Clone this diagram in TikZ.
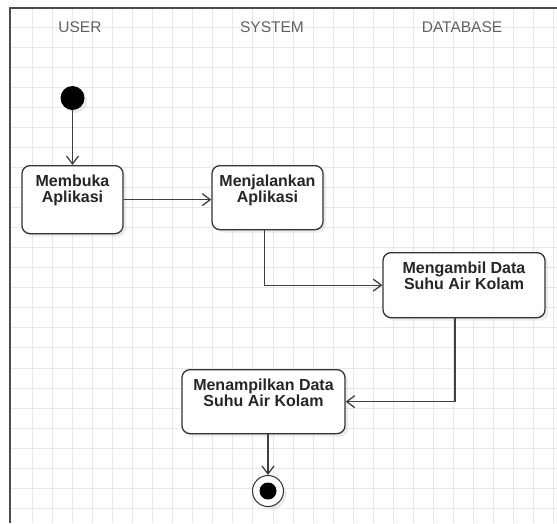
\documentclass[tikz,border=0pt]{standalone}
\usepackage{fontspec}
\setmainfont{Liberation Sans}
\usetikzlibrary{arrows.meta,shadows}

\begin{document}
\begin{tikzpicture}[x=1pt, y=-1pt,
    gridline/.style={draw=black!9, line width=0.8pt},
    frameline/.style={draw=black!70, line width=2.4pt},
    lane/.style={text=black!62, font=\fontsize{15.5}{16}\selectfont},
    softshadow/.style={drop shadow={shadow xshift=3pt, shadow yshift=-3pt, opacity=0.15}},
    activity/.style={draw=black!80, line width=1.3pt, rounded corners=8pt, fill=white, softshadow,
        font=\bfseries\fontsize{16}{16}\selectfont, text=black!85, align=center,
        anchor=north, inner sep=0pt, text height=37pt, text depth=27pt},
    flow/.style={draw=black!75, line width=1.3pt, -{Straight Barb[length=8pt,width=12pt]}},
  ]
    \useasboundingbox (0,0) rectangle (557,523);
    \fill[white] (0,0) rectangle (557,523);

    % grid
    \foreach \i in {1,...,27}
        \draw[gridline] (12+20.07*\i, 8) -- (12+20.07*\i, 523);
    \foreach \j in {1,...,25}
        \draw[gridline] (10, 7+20.05*\j) -- (557, 7+20.05*\j);
    \draw[frameline] (557,8) -- (10,8) -- (10,523);

    \node[lane] (user) at (80,27) {USER};
    \node[lane] (system) at (272,27) {SYSTEM};
    \node[lane] (database) at (462,27) {DATABASE};

    \node[circle, fill=black, minimum size=24pt, inner sep=0pt, softshadow] (start) at (72.5,98) {};
    \node[activity, minimum width=101pt, text depth=31pt] (membuka) at (72.5,165) {Membuka\\Aplikasi};
    \node[activity, minimum width=111pt] (menjalankan) at (267.5,165) {Menjalankan\\Aplikasi};
    \node[activity, minimum width=162pt, text depth=28pt] (mengambil) at (464,252) {Mengambil Data\\Suhu Air Kolam};
    \node[activity, minimum width=163pt] (menampilkan) at (263.5,369) {Menampilkan Data\\Suhu Air Kolam};
    \node[circle, draw=black!80, line width=1pt, fill=white, minimum size=31pt, inner sep=0pt, softshadow] (end) at (268,491) {};
    \fill[black] (end.center) circle (8.5pt);

    % draw arrows
    \draw[flow] (start) -- (membuka);
    \draw[flow] (membuka.east) -- (membuka.east -| menjalankan.west);
    \draw[flow] ([xshift=-3pt]menjalankan.south) |- (mengambil.west);
    \draw[flow] ([xshift=-9pt]mengambil.south) |- (menampilkan.east);
    \draw[flow] (menampilkan.south -| end) -- (end);
\end{tikzpicture}
\end{document}
